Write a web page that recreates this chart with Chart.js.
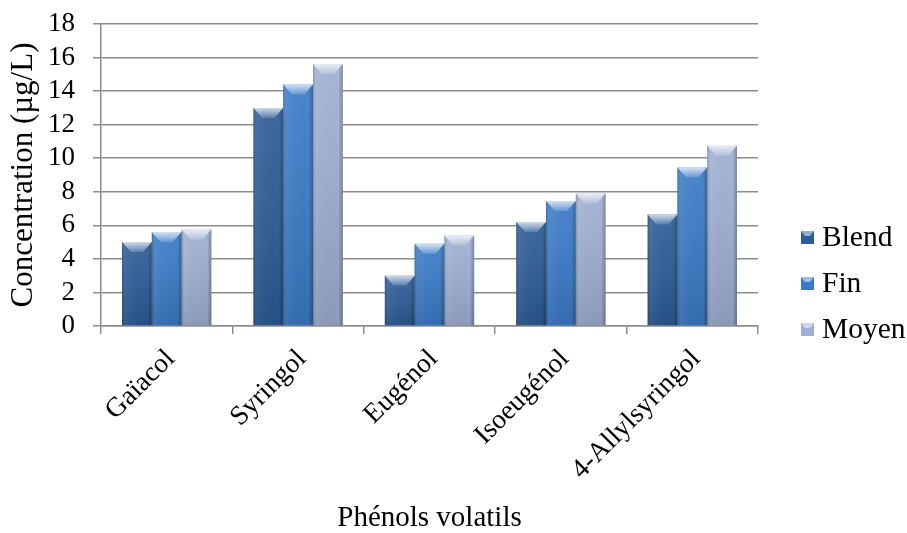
<!DOCTYPE html>
<html lang="fr">
<head>
<meta charset="UTF-8">
<title>Phénols volatils</title>
<style>
  body { margin: 0; background: #fff; }
  #wrap { width: 907px; height: 533px; }
</style>
</head>
<body>
<div id="wrap"><canvas id="chart" width="907" height="533"></canvas></div>
<script src="https://cdn.jsdelivr.net/npm/chart.js"></script>
<script>
// values (µg/L)
const categories = ['Gaïacol', 'Syringol', 'Eugénol', 'Isoeugénol', '4-Allylsyringol'];
const seriesNames = ['Blend', 'Fin', 'Moyen'];
const blend = [5.0, 13.0, 3.0, 6.2, 6.65];
const fin = [5.6, 14.4, 4.9, 7.45, 9.45];
const moyen = [5.75, 15.6, 5.4, 7.9, 10.75];
const yMin = 0, yMax = 18, yStep = 2;

const colors = ['#2c5c98', '#3a7bc8', '#9fb0d4'];
const serif = '"Liberation Serif", "Times New Roman", serif';

// bevelled look of the Excel bars, drawn on top of each bar element
const bevel = {
    id: 'bevel',
    afterDatasetsDraw(chart) {
        const ctx = chart.ctx;
        ctx.save();
        chart.data.datasets.forEach((ds, i) => {
            chart.getDatasetMeta(i).data.forEach(bar => {
                const p = bar.getProps(['x', 'y', 'base', 'width'], true);
                const l = p.x - p.width / 2, r = p.x + p.width / 2;
                const h = p.base - p.y;
                let g = ctx.createLinearGradient(l, 0, r, 0);
                g.addColorStop(0, 'rgba(0,0,0,0.22)');
                g.addColorStop(0.12, 'rgba(255,255,255,0.05)');
                g.addColorStop(0.85, 'rgba(0,0,0,0)');
                g.addColorStop(1, 'rgba(0,0,0,0.28)');
                ctx.fillStyle = g;
                ctx.fillRect(l, p.y, p.width, h);
                g = ctx.createLinearGradient(0, p.y, 0, p.base);
                g.addColorStop(0, 'rgba(255,255,255,0.08)');
                g.addColorStop(1, 'rgba(0,0,0,0.12)');
                ctx.fillStyle = g;
                ctx.fillRect(l, p.y, p.width, h);
                // top cap
                const cap = Math.min(10, h / 2);
                ctx.beginPath();
                ctx.moveTo(l, p.y);
                ctx.lineTo(r, p.y);
                ctx.lineTo(r - p.width * 0.3, p.y + cap);
                ctx.lineTo(l + p.width * 0.3, p.y + cap);
                ctx.closePath();
                g = ctx.createLinearGradient(0, p.y, 0, p.y + cap);
                g.addColorStop(0, 'rgba(255,255,255,0.75)');
                g.addColorStop(1, 'rgba(255,255,255,0.15)');
                ctx.fillStyle = g;
                ctx.fill();
            });
        });
        ctx.restore();
    }
};

// legend on the right, as in the original
const sideLegend = {
    id: 'sideLegend',
    afterDraw(chart) {
        const ctx = chart.ctx;
        const x0 = chart.chartArea.right + 43;
        ctx.save();
        ctx.font = '29.5px ' + serif;
        ctx.textBaseline = 'middle';
        chart.data.datasets.forEach((ds, i) => {
            const yy = 237 + i * 46;
            ctx.fillStyle = ds.backgroundColor;
            ctx.fillRect(x0, yy - 6, 13, 13);
            ctx.fillStyle = 'rgba(255,255,255,0.5)';
            ctx.beginPath();
            ctx.moveTo(x0, yy - 6); ctx.lineTo(x0 + 13, yy - 6); ctx.lineTo(x0 + 9, yy - 1); ctx.lineTo(x0 + 4, yy - 1);
            ctx.fill();
            ctx.fillStyle = '#000';
            ctx.fillText(ds.label, x0 + 21, yy + 1);
        });
        ctx.restore();
    }
};

const ctx = document.getElementById('chart').getContext('2d');
new Chart(ctx, {
    type: 'bar',
    data: {
        labels: categories,
        datasets: [blend, fin, moyen].map((d, i) => ({
            label: seriesNames[i],
            data: d,
            backgroundColor: colors[i],
            borderWidth: 0,
            categoryPercentage: 0.68,
            barPercentage: 1
        }))
    },
    options: {
        responsive: false,
        animation: false,
        layout: { padding: { top: 0, right: 149, left: 0, bottom: 0 } },
        plugins: {
            legend: { display: false },
            tooltip: { enabled: false }
        },
        scales: {
            x: {
                afterFit(scale) { scale.height = 207; },
                grid: { offset: true, drawOnChartArea: false, color: '#8c8c8c', lineWidth: 1.5, tickLength: 8 },
                border: { color: '#8c8c8c', width: 1.5 },
                ticks: {
                    color: '#000',
                    font: { family: serif, size: 27.5 },
                    minRotation: 45,
                    maxRotation: 45,
                    autoSkip: false,
                    labelOffset: 4,
                    padding: 9
                },
                title: {
                    display: true,
                    text: 'Phénols volatils',
                    color: '#000',
                    font: { family: serif, size: 29, lineHeight: 1 },
                    padding: { top: 0, bottom: 0 }
                }
            },
            y: {
                min: yMin,
                max: yMax,
                afterFit(scale) {
                    scale.width = 101;
                    scale.paddingTop = 24;
                },
                grid: { color: '#8c8c8c', lineWidth: 1.5, tickLength: 8 },
                border: { color: '#8c8c8c', width: 1.5 },
                ticks: {
                    stepSize: yStep,
                    autoSkip: false,
                    color: '#000',
                    font: { family: serif, size: 27 },
                    padding: 18
                },
                title: {
                    display: true,
                    text: 'Concentration (µg/L)',
                    color: '#000',
                    font: { family: serif, size: 31, lineHeight: 1 },
                    padding: { top: 8, bottom: 0 }
                }
            }
        }
    },
    plugins: [bevel, sideLegend]
});
</script>
</body>
</html>
